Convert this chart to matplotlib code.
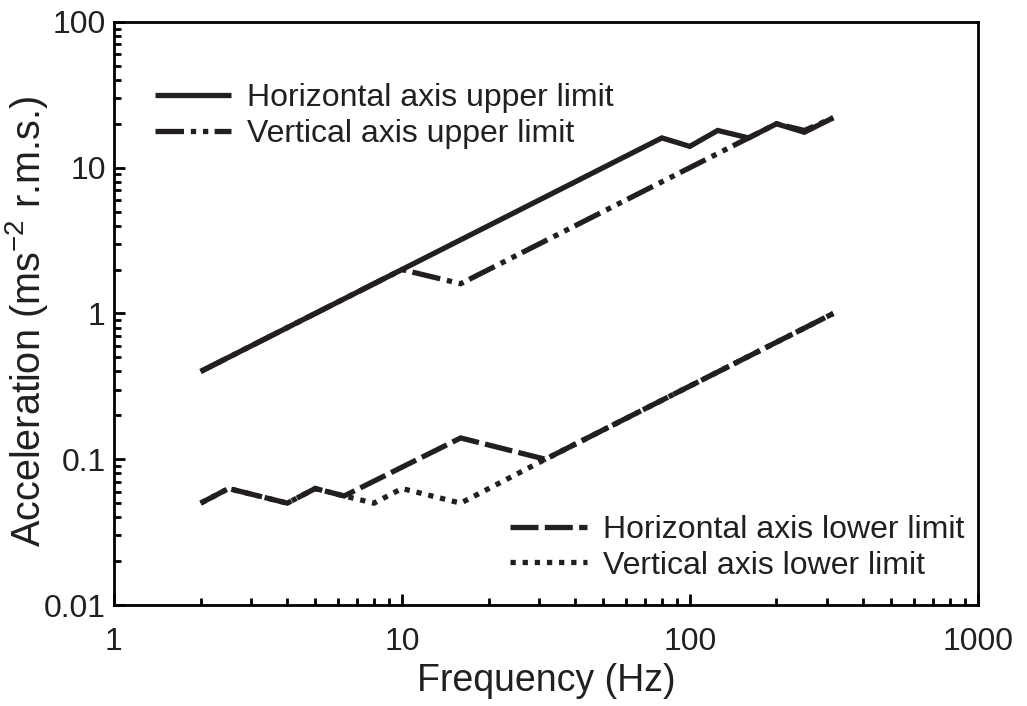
import matplotlib
matplotlib.use("Agg")
import matplotlib.pyplot as plt
from matplotlib.ticker import FixedLocator, FixedFormatter, LogLocator, NullFormatter

plt.rcParams['font.family'] = ['Liberation Sans', 'DejaVu Sans']
plt.rcParams['mathtext.fontset'] = 'custom'
plt.rcParams['mathtext.rm'] = 'Liberation Sans'

# data
h_up_f = [2, 80, 100, 125, 160, 200, 250, 315]
h_up_a = [0.4, 16, 14, 18, 16, 20, 17.5, 22]
v_up_f = [2, 10, 16, 160, 200, 250, 315]
v_up_a = [0.4, 2.0, 1.6, 16, 20, 18, 22]
h_lo_f = [2, 2.5, 4, 5, 6.3, 16, 31.5, 315]
h_lo_a = [0.05, 0.063, 0.05, 0.063, 0.056, 0.14, 0.1, 1.0]
v_lo_f = [2, 2.5, 4, 5, 6.3, 8, 10, 16, 31.5, 315]
v_lo_a = [0.05, 0.063, 0.05, 0.063, 0.056, 0.05, 0.063, 0.05, 0.1, 1.0]

x_ticks = [1, 10, 100, 1000]
x_labels = ["1", "10", "100", "1000"]
y_ticks = [0.01, 0.1, 1, 10, 100]
y_labels = ["0.01", "0.1", "1", "10", "100"]

ink = '#231f20'
lw = 3.8

fig = plt.figure(figsize=(10.27, 7.06), dpi=100)
ax = fig.add_axes([0.111, 0.143, 0.841, 0.826])

l1, = ax.plot(h_up_f, h_up_a, color=ink, lw=lw, solid_capstyle='butt', solid_joinstyle='miter')
l2, = ax.plot(v_up_f, v_up_a, color=ink, lw=lw, dashes=(5.4, 1.3, 1, 1.3, 1, 1.2),
              dash_capstyle='butt', dash_joinstyle='miter')
l3, = ax.plot(h_lo_f, h_lo_a, color=ink, lw=lw, dashes=(5.3, 1.2),
              dash_capstyle='butt', dash_joinstyle='miter')
l4, = ax.plot(v_lo_f, v_lo_a, color=ink, lw=lw, dashes=(1, 1.3),
              dash_capstyle='butt', dash_joinstyle='miter')

ax.set_xscale('log')
ax.set_yscale('log')
ax.set_xlim(1, 1000)
ax.set_ylim(0.01, 100)

ax.xaxis.set_major_locator(FixedLocator(x_ticks))
ax.xaxis.set_major_formatter(FixedFormatter(x_labels))
ax.yaxis.set_major_locator(FixedLocator(y_ticks))
ax.yaxis.set_major_formatter(FixedFormatter(y_labels))
ax.xaxis.set_minor_locator(LogLocator(base=10, subs=range(2, 10)))
ax.yaxis.set_minor_locator(LogLocator(base=10, subs=range(2, 10)))
ax.xaxis.set_minor_formatter(NullFormatter())
ax.yaxis.set_minor_formatter(NullFormatter())

ax.tick_params(which='both', direction='in', top=False, right=False, width=2, color='black')
ax.tick_params(which='major', length=8)
ax.tick_params(which='minor', length=5)
ax.tick_params(axis='x', which='major', labelsize=23, pad=16, labelcolor=ink)
ax.tick_params(axis='y', which='major', labelsize=23, pad=6, labelcolor=ink)

for s in ax.spines.values():
    s.set_linewidth(2)
    s.set_color('black')

ax.set_xlabel("Frequency (Hz)", fontsize=27, color=ink, labelpad=4)
ax.set_ylabel(r"Acceleration (ms$^{\mathregular{-2}}$ r.m.s.)", fontsize=28.5, color=ink)
ax.yaxis.set_label_coords(-0.074, 0.486)

leg1 = ax.legend([l1, l2], ["Horizontal axis upper limit", "Vertical axis upper limit"],
                 loc='upper left', bbox_to_anchor=(0.047, 0.895), frameon=False, fontsize=23,
                 handlelength=2.4, handletextpad=0.5, labelspacing=0.18, labelcolor=ink,
                 borderpad=0, borderaxespad=0)
ax.add_artist(leg1)
ax.legend([l3, l4], ["Horizontal axis lower limit", "Vertical axis lower limit"],
          loc='lower left', bbox_to_anchor=(0.459, 0.042), frameon=False, fontsize=23,
          handlelength=2.4, handletextpad=0.5, labelspacing=0.18, labelcolor=ink,
          borderpad=0, borderaxespad=0)

fig.savefig("out.png", dpi=100)
